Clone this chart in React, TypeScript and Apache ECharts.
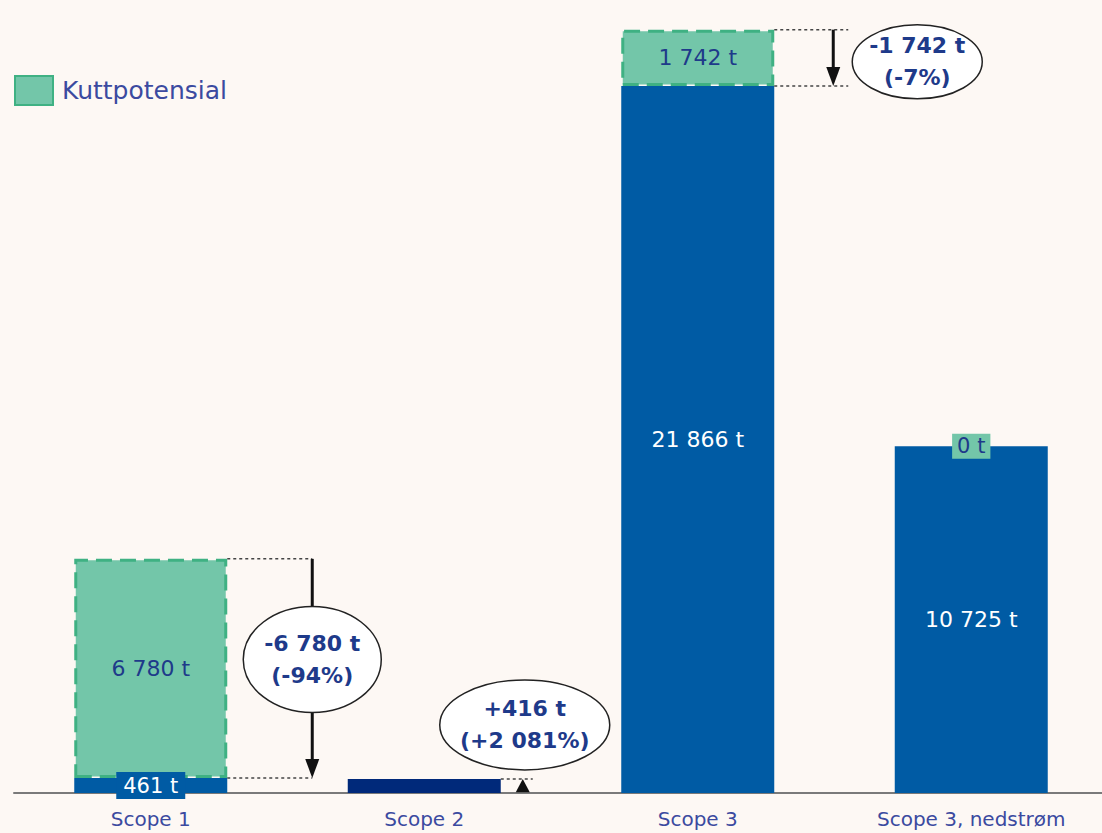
import React, { useEffect, useRef } from "react";
import * as echarts from "echarts";

const categories = ["Scope 1", "Scope 2", "Scope 3", "Scope 3, nedstrøm"];
const emissions = [461, 436, 21866, 10725];
const cutPotential: (number | null)[] = [6780, null, 1742, 0];
const previousScope2 = 20;
const changeLabels = ["-6 780 t", "+416 t", "-1 742 t"];
const changePctLabels = ["(-94%)", "(+2 081%)", "(-7%)"];

const FONT = "DejaVu Sans";
const BLUE = "#005ba4";
const NAVY = "#00297a";
const GREEN = "#73c6a9";
const GREEN_BORDER = "#3fb183";
const TEXT_BLUE = "#1e3a8a";
const LABEL_BLUE = "#3b4aa0";
const BG = "#fdf8f4";
const BAR_W = 153;

const fmt = (v: number) => String(v).replace(/\B(?=(\d{3})+(?!\d))/g, " ") + " t";

export default function App() {
  const ref = useRef<HTMLDivElement>(null);
  useEffect(() => {
    if (!ref.current) return;
    const chart = echarts.init(ref.current, undefined, { renderer: "svg" });
    const option: any = {
      animation: false,
      backgroundColor: BG,
      grid: { left: 14, width: 1094, top: 17, height: 776 },
      legend: {
        data: [{ name: "Kuttpotensial", icon: "rect" }],
        left: 9,
        top: 70,
        itemWidth: 38,
        itemHeight: 29,
        itemGap: 10,
        textStyle: { fontFamily: FONT, fontSize: 25, color: LABEL_BLUE, padding: [0, 0, 0, 4] },
      },
      xAxis: {
        type: "category",
        data: categories,
        axisLine: { lineStyle: { color: "#7a7a7a", width: 2 } },
        axisTick: { show: false },
        axisLabel: { fontFamily: FONT, fontSize: 20, color: LABEL_BLUE, margin: 16 },
      },
      yAxis: { type: "value", min: 0, max: 24000, show: false, splitLine: { show: false } },
      series: [
        {
          name: "Utslipp",
          type: "bar",
          stack: "total",
          barWidth: BAR_W,
          itemStyle: { color: BLUE },
          label: {
            show: true,
            position: "inside",
            fontFamily: FONT,
            fontSize: 22,
            color: "#ffffff",
            formatter: (p: any) => fmt(p.value),
          },
          data: emissions.map((v, i) => {
            if (i === 0)
              return {
                value: v,
                label: { backgroundColor: BLUE, padding: [4, 7, 2, 7], fontSize: 21 },
              };
            if (i === 1) return { value: v, itemStyle: { color: NAVY }, label: { show: false } };
            return v;
          }),
        },
        {
          name: "Kuttpotensial",
          type: "bar",
          stack: "total",
          barWidth: BAR_W,
          itemStyle: {
            color: GREEN,
            borderColor: GREEN_BORDER,
            borderWidth: 3,
            borderType: [16, 8],
          },
          label: {
            show: true,
            position: "inside",
            fontFamily: FONT,
            fontSize: 22,
            color: TEXT_BLUE,
            formatter: (p: any) => fmt(p.value),
          },
          data: cutPotential.map((v) => {
            if (v === 0)
              return {
                value: v,
                itemStyle: { borderWidth: 0 },
                label: { backgroundColor: GREEN, padding: [3, 5, 1, 5], fontSize: 21 },
              };
            return v;
          }),
        },
      ],
    };
    chart.setOption(option);

    const px = (i: number, v: number) => chart.convertToPixel({ seriesIndex: 0 }, [i, v]) as number[];
    const g: any[] = [];
    const dotted = (x1: number, y: number, x2: number) =>
      g.push({
        type: "line",
        shape: { x1, y1: y, x2, y2: y },
        style: { stroke: "#444", lineWidth: 1.5, lineDash: [3, 3] },
        z: 5,
      });
    const arrowDown = (x: number, y1: number, y2: number) => {
      g.push({
        type: "line",
        shape: { x1: x, y1, x2: x, y2: y2 - 14 },
        style: { stroke: "#111", lineWidth: 3 },
        z: 6,
      });
      g.push({
        type: "polygon",
        shape: { points: [[x - 7, y2 - 19], [x + 7, y2 - 19], [x, y2]] },
        style: { fill: "#111" },
        z: 6,
      });
    };
    const bubble = (cx: number, cy: number, rx: number, ry: number, idx: number) => {
      g.push({
        type: "ellipse",
        shape: { cx, cy, rx, ry },
        style: { fill: "#ffffff", stroke: "#222", lineWidth: 1.5 },
        z: 7,
      });
      const t = (text: string, y: number) =>
        g.push({
          type: "text",
          x: cx,
          y,
          style: {
            text,
            fill: TEXT_BLUE,
            font: `bold 22px "${FONT}"`,
            align: "center",
            verticalAlign: "middle",
          },
          z: 8,
        });
      t(changeLabels[idx], cy - 16);
      t(changePctLabels[idx], cy + 16);
    };

    // Scope 1
    {
      const c = px(0, emissions[0]);
      const top = px(0, emissions[0] + (cutPotential[0] as number))[1];
      const base = c[1];
      const right = c[0] + BAR_W / 2;
      const ax = right + 85;
      dotted(right, top, ax);
      dotted(right, base, ax);
      arrowDown(ax, top, base);
      bubble(ax, (top + base) / 2 - 9, 69, 53, 0);
    }
    // Scope 2
    {
      const c = px(1, emissions[1]);
      const top = c[1];
      const base = px(1, previousScope2)[1];
      const right = c[0] + BAR_W / 2;
      const ax = right + 22;
      dotted(right, top, ax + 10);
      g.push({
        type: "polygon",
        shape: { points: [[ax - 7, base], [ax + 7, base], [ax, top]] },
        style: { fill: "#111" },
        z: 6,
      });
      bubble(ax + 2, top - 54, 85, 45, 1);
    }
    // Scope 3
    {
      const c = px(2, emissions[2]);
      const base = c[1];
      const top = px(2, emissions[2] + (cutPotential[2] as number))[1];
      const right = c[0] + BAR_W / 2;
      const ax = right + 59;
      dotted(right, top, ax + 15);
      dotted(right, base, ax + 15);
      arrowDown(ax, top, base);
      bubble(right + 143, (top + base) / 2 + 4, 65, 37, 2);
    }
    chart.setOption({ graphic: g });

    return () => chart.dispose();
  }, []);
  return (
    <div
      style={{
        position: "fixed",
        left: 0,
        top: 0,
        width: 1102,
        height: 833,
        overflow: "hidden",
        background: BG,
      }}
    >
      <div ref={ref} style={{ width: 1110, height: 833 }} />
    </div>
  );
}
